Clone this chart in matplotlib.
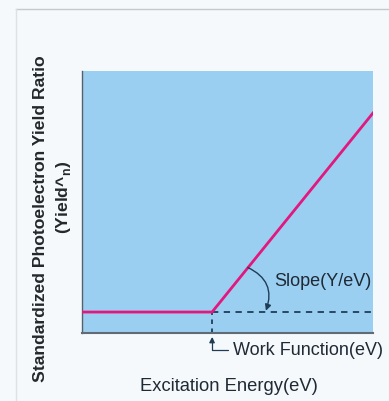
import matplotlib
matplotlib.use('Agg')
import matplotlib.pyplot as plt
from matplotlib.lines import Line2D

# data (arbitrary units)
energy = [0.0, 4.47, 10.0]
yield_ratio = [0.8, 0.8, 8.4]
work_function = 4.47
baseline = 0.8

BLUE = '#9bcff1'
PINK = '#e2187e'
NAVY = '#1f3c56'
TEXT = '#1f2a35'
FONT = ['Liberation Sans', 'DejaVu Sans']

fig = plt.figure(figsize=(3.89, 4.01), dpi=100, facecolor='#f6f9fb')
ax = fig.add_axes([0.2108, 0.1696, 0.748, 0.653])
ax.set_facecolor(BLUE)
ax.set_xlim(0, 10)
ax.set_ylim(0, 10)
ax.set_xticks([])
ax.set_yticks([])
for s in ['top', 'right']:
    ax.spines[s].set_visible(False)
ax.spines['left'].set_color('#55606a')
ax.spines['left'].set_linewidth(1.0)
ax.spines['bottom'].set_color('#5f6b75')
ax.spines['bottom'].set_linewidth(1.5)

# page frame lines
fig.add_artist(Line2D([16 / 389, 1], [1 - 9 / 401, 1 - 9 / 401], color='#c4c9cd', lw=1.0))
fig.add_artist(Line2D([16 / 389, 16 / 389], [0, 1 - 9 / 401], color='#dde1e4', lw=1.0))

# yield curve
ax.plot(energy, yield_ratio, color=PINK, lw=2.0, zorder=3)

# dashed extension and work function marker
ax.plot([work_function, 10], [baseline, baseline], color=NAVY, lw=1.3,
        ls=(0, (3.5, 3)), zorder=2)
ax.plot([work_function, work_function], [0, baseline], color=NAVY, lw=1.3,
        ls=(0, (2.5, 2.5)), zorder=2)

# slope arrow
ax.annotate('', xy=(6.32, baseline + 0.05), xytext=(5.7, 2.5),
            arrowprops=dict(arrowstyle='-|>', color=NAVY, lw=1.0,
                            connectionstyle='arc3,rad=-0.45',
                            mutation_scale=9, shrinkA=0, shrinkB=0))
ax.text(6.6, 1.95, 'Slope(Y/eV)', family=FONT, fontsize=13, color=TEXT,
        ha='left', va='center')

# work function label
ax.annotate('Work Function(eV)', xy=(work_function, -0.15), xytext=(5.2, -0.65),
            textcoords='data', family=FONT, fontsize=13, color=TEXT,
            ha='left', va='center', annotation_clip=False,
            arrowprops=dict(arrowstyle='-|>', color=NAVY, lw=0.9,
                            connectionstyle='angle,angleA=0,angleB=90,rad=0',
                            relpos=(0, 0.5), mutation_scale=8,
                            shrinkA=2, shrinkB=0))

# axis labels
fig.text(0.589, 0.035, 'Excitation Energy(eV)', family=FONT, fontsize=13.2,
         color=TEXT, ha='center', va='center')
fig.text(0.103, 0.454, 'Standardized Photoelectron Yield Ratio', family=FONT,
         fontsize=12.6, weight='bold', color='#25282b', rotation=90,
         ha='center', va='center')
fig.text(0.162, 0.508, r'(Yield^$_\mathregular{n}$)', family=FONT,
         fontsize=12.6, weight='bold', color='#25282b', rotation=90,
         ha='center', va='center')

fig.savefig('out.png', dpi=100, facecolor=fig.get_facecolor())
